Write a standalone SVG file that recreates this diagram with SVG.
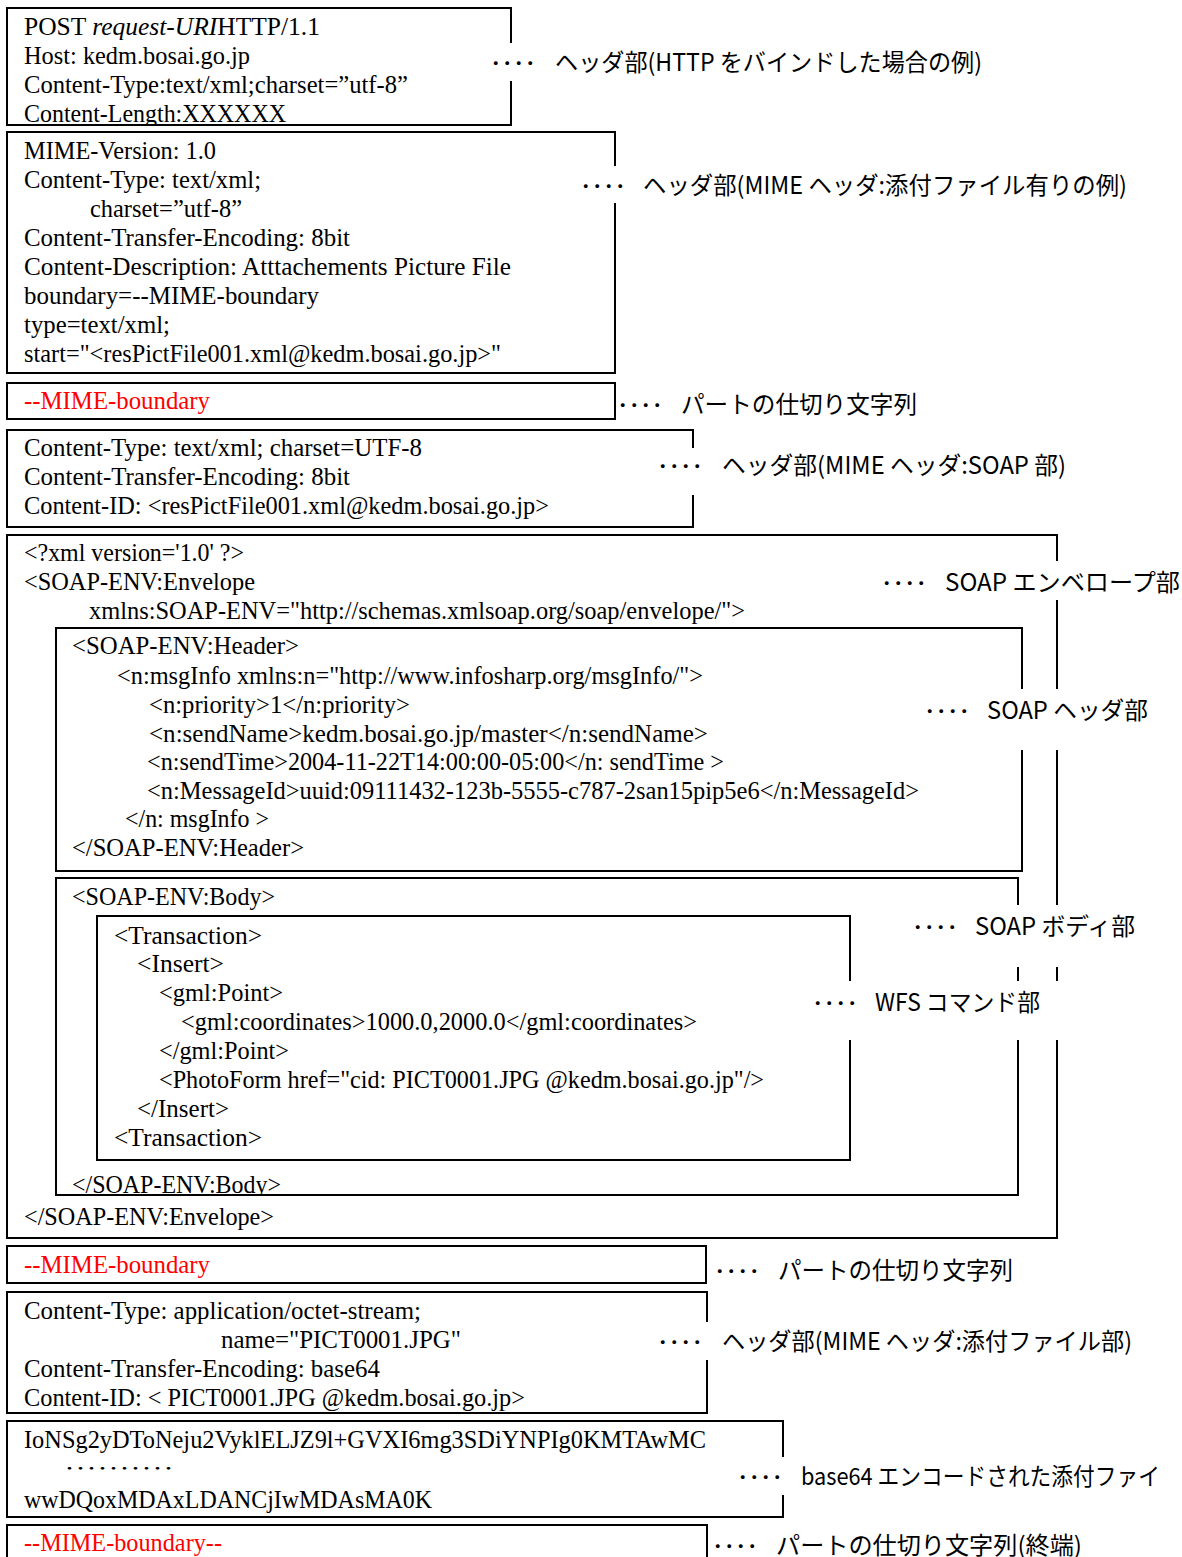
<svg xmlns="http://www.w3.org/2000/svg" width="1182" height="1557" viewBox="0 0 1182 1557">
<style>
.box{fill:none;stroke:#000;stroke-width:2}
.bg{fill:#fff;stroke:none}
.code{font-family:"Liberation Serif","Times New Roman",serif;font-size:25px;fill:#000}
.red{fill:#ff0000}
.lbl{font-family:"Noto Sans CJK JP","Noto Sans",sans-serif;font-size:24px;fill:#000}
.dots{font-family:"Noto Sans CJK JP",sans-serif;font-size:22px;fill:#000}
</style>
<defs>
<clipPath id="c1"><rect x="7" y="8" width="504" height="117"/></clipPath>
<clipPath id="c2"><rect x="56" y="878" width="962" height="317"/></clipPath>
</defs>
<rect x="0" y="0" width="1182" height="1557" fill="#fff"/>

<g id="http-header">
<g clip-path="url(#c1)">
<text class="code" x="24" y="35" textLength="296" lengthAdjust="spacingAndGlyphs">POST <tspan font-style="italic">request-URI</tspan>HTTP/1.1</text>
<text class="code" x="24" y="64" textLength="226" lengthAdjust="spacingAndGlyphs">Host: kedm.bosai.go.jp</text>
<text class="code" x="24" y="93" textLength="384" lengthAdjust="spacingAndGlyphs">Content-Type:text/xml;charset=”utf-8”</text>
<text class="code" x="24" y="122" textLength="262" lengthAdjust="spacingAndGlyphs">Content-Length:XXXXXX</text>
</g>
<rect class="box" x="7" y="8" width="504" height="117"/>
</g>

<g id="mime-header">
<text class="code" x="24" y="159" textLength="192" lengthAdjust="spacingAndGlyphs">MIME-Version: 1.0</text>
<text class="code" x="24" y="188" textLength="237" lengthAdjust="spacingAndGlyphs">Content-Type: text/xml;</text>
<text class="code" x="90" y="217" textLength="152" lengthAdjust="spacingAndGlyphs">charset=”utf-8”</text>
<text class="code" x="24" y="246" textLength="326" lengthAdjust="spacingAndGlyphs">Content-Transfer-Encoding: 8bit</text>
<text class="code" x="24" y="275" textLength="487" lengthAdjust="spacingAndGlyphs">Content-Description: Atttachements Picture File</text>
<text class="code" x="24" y="304" textLength="295" lengthAdjust="spacingAndGlyphs">boundary=--MIME-boundary</text>
<text class="code" x="24" y="333" textLength="146" lengthAdjust="spacingAndGlyphs">type=text/xml;</text>
<text class="code" x="24" y="362" textLength="477" lengthAdjust="spacingAndGlyphs">start="&lt;resPictFile001.xml@kedm.bosai.go.jp&gt;"</text>
<rect class="box" x="7" y="132" width="608" height="241"/>
</g>

<g id="boundary-1">
<rect class="box" x="7" y="383" width="608" height="36"/>
<text class="code red" x="24" y="409" textLength="186" lengthAdjust="spacingAndGlyphs">--MIME-boundary</text>
</g>

<g id="soap-mime-header">
<text class="code" x="24" y="456" textLength="398" lengthAdjust="spacingAndGlyphs">Content-Type: text/xml; charset=UTF-8</text>
<text class="code" x="24" y="485" textLength="326" lengthAdjust="spacingAndGlyphs">Content-Transfer-Encoding: 8bit</text>
<text class="code" x="24" y="514" textLength="525" lengthAdjust="spacingAndGlyphs">Content-ID: &lt;resPictFile001.xml@kedm.bosai.go.jp&gt;</text>
<rect class="box" x="7" y="430" width="686" height="97"/>
</g>

<g id="soap-envelope">
<text class="code" x="24" y="561" textLength="220" lengthAdjust="spacingAndGlyphs">&lt;?xml version='1.0' ?&gt;</text>
<text class="code" x="24" y="590" textLength="231" lengthAdjust="spacingAndGlyphs">&lt;SOAP-ENV:Envelope</text>
<text class="code" x="89" y="619" textLength="656" lengthAdjust="spacingAndGlyphs">xmlns:SOAP-ENV="http://schemas.xmlsoap.org/soap/envelope/"&gt;</text>
<text class="code" x="24" y="1225" textLength="250" lengthAdjust="spacingAndGlyphs">&lt;/SOAP-ENV:Envelope&gt;</text>
<rect class="box" x="7" y="535" width="1050" height="703"/>
</g>

<g id="soap-header">
<text class="code" x="72" y="654" textLength="227" lengthAdjust="spacingAndGlyphs">&lt;SOAP-ENV:Header&gt;</text>
<text class="code" x="117" y="684" textLength="586" lengthAdjust="spacingAndGlyphs">&lt;n:msgInfo xmlns:n="http://www.infosharp.org/msgInfo/"&gt;</text>
<text class="code" x="149" y="713" textLength="261" lengthAdjust="spacingAndGlyphs">&lt;n:priority&gt;1&lt;/n:priority&gt;</text>
<text class="code" x="149" y="742" textLength="559" lengthAdjust="spacingAndGlyphs">&lt;n:sendName&gt;kedm.bosai.go.jp/master&lt;/n:sendName&gt;</text>
<text class="code" x="147" y="770" textLength="577" lengthAdjust="spacingAndGlyphs">&lt;n:sendTime&gt;2004-11-22T14:00:00-05:00&lt;/n: sendTime &gt;</text>
<text class="code" x="147" y="799" textLength="772" lengthAdjust="spacingAndGlyphs">&lt;n:MessageId&gt;uuid:09111432-123b-5555-c787-2san15pip5e6&lt;/n:MessageId&gt;</text>
<text class="code" x="125" y="827" textLength="144" lengthAdjust="spacingAndGlyphs">&lt;/n: msgInfo &gt;</text>
<text class="code" x="72" y="856" textLength="232" lengthAdjust="spacingAndGlyphs">&lt;/SOAP-ENV:Header&gt;</text>
<rect class="box" x="56" y="628" width="966" height="243"/>
</g>

<g id="soap-body">
<g clip-path="url(#c2)">
<text class="code" x="72" y="905" textLength="203" lengthAdjust="spacingAndGlyphs">&lt;SOAP-ENV:Body&gt;</text>
<text class="code" x="72" y="1193" textLength="209" lengthAdjust="spacingAndGlyphs">&lt;/SOAP-ENV:Body&gt;</text>
</g>
<rect class="box" x="56" y="878" width="962" height="317"/>
</g>

<g id="wfs-command">
<text class="code" x="114" y="944" textLength="148" lengthAdjust="spacingAndGlyphs">&lt;Transaction&gt;</text>
<text class="code" x="137" y="972" textLength="87" lengthAdjust="spacingAndGlyphs">&lt;Insert&gt;</text>
<text class="code" x="159" y="1001" textLength="124" lengthAdjust="spacingAndGlyphs">&lt;gml:Point&gt;</text>
<text class="code" x="181" y="1030" textLength="516" lengthAdjust="spacingAndGlyphs">&lt;gml:coordinates&gt;1000.0,2000.0&lt;/gml:coordinates&gt;</text>
<text class="code" x="159" y="1059" textLength="130" lengthAdjust="spacingAndGlyphs">&lt;/gml:Point&gt;</text>
<text class="code" x="159" y="1088" textLength="605" lengthAdjust="spacingAndGlyphs">&lt;PhotoForm href="cid: PICT0001.JPG @kedm.bosai.go.jp"/&gt;</text>
<text class="code" x="137" y="1117" textLength="92" lengthAdjust="spacingAndGlyphs">&lt;/Insert&gt;</text>
<text class="code" x="114" y="1146" textLength="148" lengthAdjust="spacingAndGlyphs">&lt;Transaction&gt;</text>
<rect class="box" x="97" y="916" width="753" height="244"/>
</g>

<g id="boundary-2">
<rect class="box" x="7" y="1246" width="699" height="37"/>
<text class="code red" x="24" y="1273" textLength="186" lengthAdjust="spacingAndGlyphs">--MIME-boundary</text>
</g>

<g id="attach-mime-header">
<text class="code" x="24" y="1319" textLength="397" lengthAdjust="spacingAndGlyphs">Content-Type: application/octet-stream;</text>
<text class="code" x="221" y="1348" textLength="240" lengthAdjust="spacingAndGlyphs">name="PICT0001.JPG"</text>
<text class="code" x="24" y="1377" textLength="356" lengthAdjust="spacingAndGlyphs">Content-Transfer-Encoding: base64</text>
<text class="code" x="24" y="1406" textLength="501" lengthAdjust="spacingAndGlyphs">Content-ID: &lt; PICT0001.JPG @kedm.bosai.go.jp&gt;</text>
<rect class="box" x="7" y="1292" width="700" height="121"/>
</g>

<g id="attach-body">
<text class="code" x="24" y="1448" textLength="682" lengthAdjust="spacingAndGlyphs">IoNSg2yDToNeju2VyklELJZ9l+GVXI6mg3SDiYNPIg0KMTAwMC</text>
<text class="dots" x="64" y="1474" font-size="16" textLength="110" lengthAdjust="spacingAndGlyphs" style="font-size:16px">･･････････</text>
<text class="code" x="24" y="1508" textLength="408" lengthAdjust="spacingAndGlyphs">wwDQoxMDAxLDANCjIwMDAsMA0K</text>
<rect class="box" x="7" y="1421" width="776" height="96"/>
</g>

<g id="boundary-end">
<rect class="box" x="7" y="1525" width="700" height="50"/>
<text class="code red" x="24" y="1551" textLength="198" lengthAdjust="spacingAndGlyphs">--MIME-boundary--</text>
</g>

<g id="labels">
<g id="label-http">
<rect class="bg" x="486" y="43" width="500" height="38"/>
<text class="dots" x="490" y="71" textLength="46" lengthAdjust="spacingAndGlyphs">････</text>
<text class="lbl" x="555" y="71" textLength="427" lengthAdjust="spacingAndGlyphs">ヘッダ部(HTTP をバインドした場合の例)</text>
</g>
<g id="label-mime">
<rect class="bg" x="576" y="166" width="560" height="37"/>
<text class="dots" x="580" y="194" textLength="46" lengthAdjust="spacingAndGlyphs">････</text>
<text class="lbl" x="643" y="194" textLength="484" lengthAdjust="spacingAndGlyphs">ヘッダ部(MIME ヘッダ:添付ファイル有りの例)</text>
</g>
<g id="label-boundary-1">
<text class="dots" x="617" y="413" textLength="46" lengthAdjust="spacingAndGlyphs">････</text>
<text class="lbl" x="681" y="413" textLength="236" lengthAdjust="spacingAndGlyphs">パートの仕切り文字列</text>
</g>
<g id="label-soap-mime">
<rect class="bg" x="650" y="448" width="425" height="47"/>
<text class="dots" x="657" y="474" textLength="46" lengthAdjust="spacingAndGlyphs">････</text>
<text class="lbl" x="722" y="474" textLength="344" lengthAdjust="spacingAndGlyphs">ヘッダ部(MIME ヘッダ:SOAP 部)</text>
</g>
<g id="label-envelope">
<rect class="bg" x="875" y="561" width="307" height="39"/>
<text class="dots" x="881" y="591" textLength="46" lengthAdjust="spacingAndGlyphs">････</text>
<text class="lbl" x="945" y="591" textLength="235" lengthAdjust="spacingAndGlyphs">SOAP エンベロープ部</text>
</g>
<g id="label-soap-header">
<rect class="bg" x="915" y="689" width="245" height="61"/>
<text class="dots" x="924" y="719" textLength="46" lengthAdjust="spacingAndGlyphs">････</text>
<text class="lbl" x="987" y="719" textLength="161" lengthAdjust="spacingAndGlyphs">SOAP ヘッダ部</text>
</g>
<g id="label-soap-body">
<rect class="bg" x="905" y="905" width="240" height="62"/>
<text class="dots" x="912" y="935" textLength="46" lengthAdjust="spacingAndGlyphs">････</text>
<text class="lbl" x="975" y="935" textLength="160" lengthAdjust="spacingAndGlyphs">SOAP ボディ部</text>
</g>
<g id="label-wfs">
<rect class="bg" x="805" y="981" width="260" height="59"/>
<text class="dots" x="812" y="1011" textLength="46" lengthAdjust="spacingAndGlyphs">････</text>
<text class="lbl" x="875" y="1011" textLength="165" lengthAdjust="spacingAndGlyphs">WFS コマンド部</text>
</g>
<g id="label-boundary-2">
<text class="dots" x="714" y="1279" textLength="46" lengthAdjust="spacingAndGlyphs">････</text>
<text class="lbl" x="778" y="1279" textLength="235" lengthAdjust="spacingAndGlyphs">パートの仕切り文字列</text>
</g>
<g id="label-attach-mime">
<rect class="bg" x="650" y="1322" width="490" height="38"/>
<text class="dots" x="657" y="1350" textLength="46" lengthAdjust="spacingAndGlyphs">････</text>
<text class="lbl" x="722" y="1350" textLength="410" lengthAdjust="spacingAndGlyphs">ヘッダ部(MIME ヘッダ:添付ファイル部)</text>
</g>
<g id="label-attach-body">
<rect class="bg" x="730" y="1457" width="440" height="38"/>
<text class="dots" x="737" y="1485" textLength="46" lengthAdjust="spacingAndGlyphs">････</text>
<text class="lbl" x="801" y="1485" textLength="359" lengthAdjust="spacingAndGlyphs">base64 エンコードされた添付ファイ</text>
</g>
<g id="label-boundary-end">
<text class="dots" x="712" y="1554" textLength="46" lengthAdjust="spacingAndGlyphs">････</text>
<text class="lbl" x="776" y="1554" textLength="306" lengthAdjust="spacingAndGlyphs">パートの仕切り文字列(終端)</text>
</g>
</g>
</svg>
